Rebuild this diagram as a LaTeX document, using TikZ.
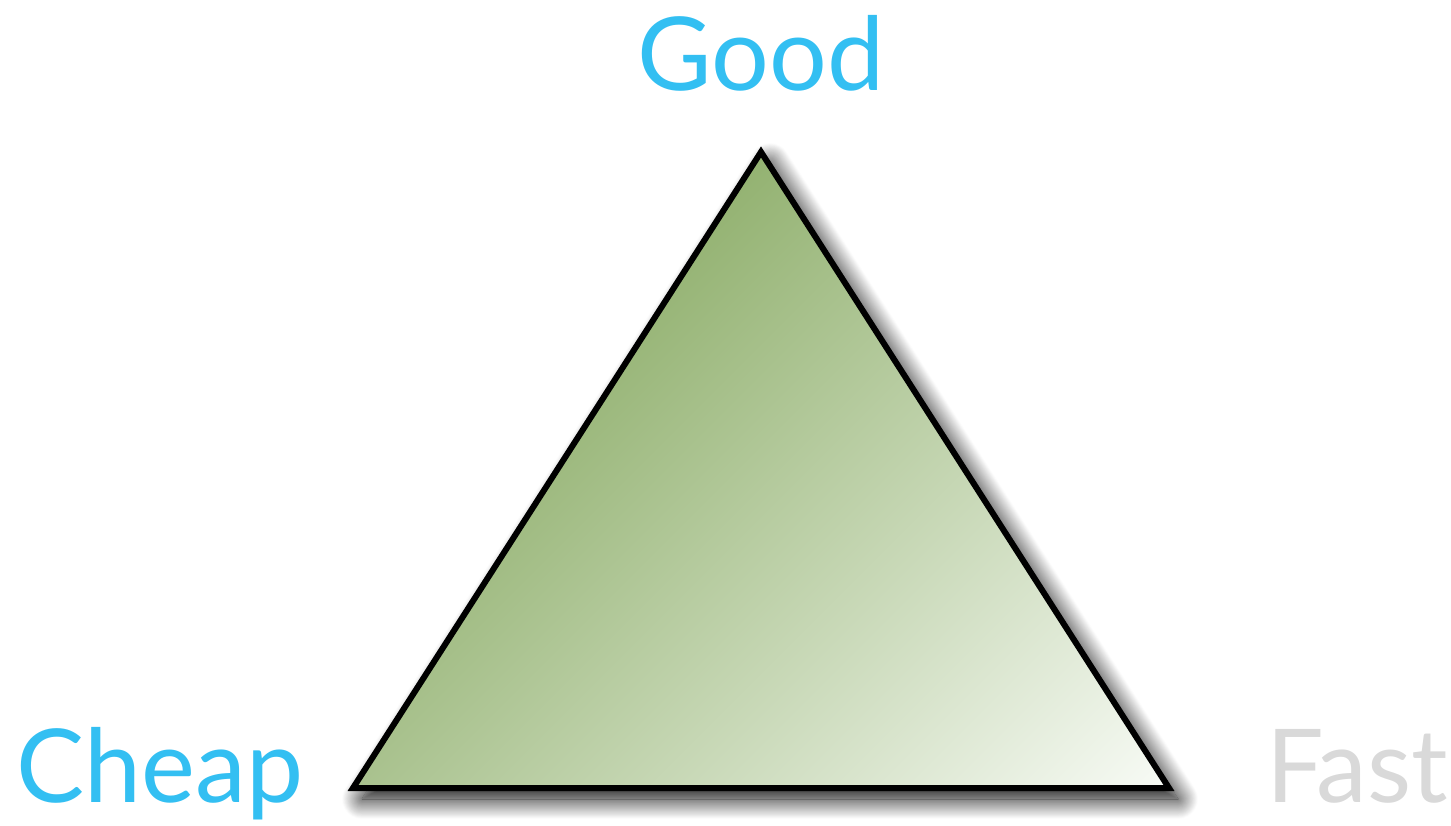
\documentclass[tikz,border=0pt]{standalone}
\usepackage{fontspec}
\setmainfont{Lato}
\usetikzlibrary{shadows.blur}
\definecolor{skyblue}{HTML}{33BFF2}
\definecolor{lightgrey}{HTML}{D9D9D9}
\definecolor{leafgreen}{HTML}{93B271}
\definecolor{palegreen}{HTML}{C6D8B5}
\definecolor{paper}{HTML}{F8FBF6}
\tikzset{
  corner/.style={font=\fontsize{102}{120}\selectfont, anchor=base, inner sep=0pt},
  edge/.style={line width=6pt, line join=miter},
}
\begin{document}
\begin{tikzpicture}[x=1pt,y=-1pt]
\useasboundingbox (0,0) rectangle (1451,825);
% the triangle
\coordinate (top) at (761,152);
\coordinate (left) at (353,788);
\coordinate (right) at (1169,788);
\path[fill=white, blur shadow={shadow xshift=9pt, shadow yshift=-11pt, shadow blur radius=20pt, shadow blur steps=24, shadow opacity=100}]
  (top) -- (right) -- (left) -- cycle;
\begin{scope}
  \clip (top) -- (right) -- (left) -- cycle;
  \shade[left color=leafgreen, middle color=palegreen, right color=paper, transform canvas={rotate around={-45:(top)}}]
    (761,-900) rectangle (1499,900);
\end{scope}
\draw[edge] (top) -- (right) -- (left) -- cycle;
% the labels
\node[corner, text=skyblue] (good) at (761,90) {Good};
\node[corner, text=skyblue] (cheap) at (160,802) {Cheap};
\node[corner, text=lightgrey] (fast) at (1357,802) {Fast};
\end{tikzpicture}
\end{document}
